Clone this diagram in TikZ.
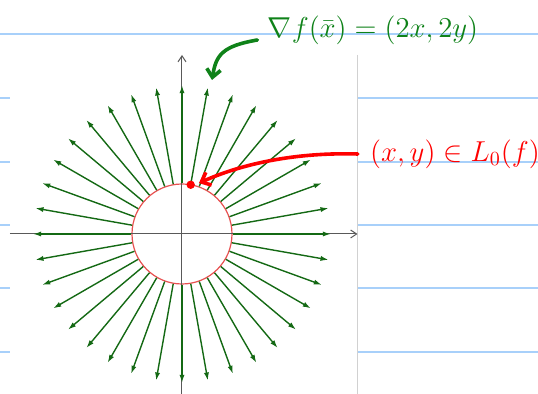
\documentclass[tikz,border=0pt]{standalone}
\usepackage{amsmath, amssymb}
\usepackage{xcolor}
\usepackage{tikz}
\usetikzlibrary{arrows.meta, positioning, calc}

\definecolor{gradgreen}{RGB}{20,105,20}
\definecolor{notegreen}{RGB}{15,130,25}
\definecolor{ruleblue}{RGB}{168,208,250}
\definecolor{circred}{RGB}{232,80,80}

\begin{document}
\begin{tikzpicture}[
  x=0.5pt, y=-0.5pt,
  >=Latex,
  ruled/.style={draw=ruleblue, line width=1pt},
  frame/.style={draw=black!18, line width=0.6pt},
  axis/.style={-{Straight Barb[length=3pt, width=4pt]}, draw=black!65, line width=0.5pt},
  vec/.style={-{Latex[length=4pt, width=2.6pt]}, draw=gradgreen, line width=0.7pt},
  levelset/.style={circle, draw=circred, line width=0.6pt, minimum size=50pt, inner sep=0pt},
  label/.style={font=\fontsize{14}{16}\selectfont, inner sep=3pt},
  note/.style={-{Straight Barb[length=4pt, width=7pt]}, line width=1.8pt, line cap=round}
]

% ---------------------------------------------------
% Page rulings and plot frame
% ---------------------------------------------------
\def\xLeft{10}
\def\xRight{357.5}

\useasboundingbox (0,0) rectangle (538,394);

\draw[ruled] (0,34.5) -- (538,34.5);
\foreach \y in {98.3,161.7,225,288.3,351.7} {
  \draw[ruled] (0,\y) -- (\xLeft,\y);
  \draw[ruled] (\xRight,\y) -- (538,\y);
}
\draw[frame] (\xRight,55) -- (\xRight,394);

% ---------------------------------------------------
% Axes and level set
% ---------------------------------------------------
\node[levelset] (level) at (182,234) {};

\draw[axis] (\xLeft,234) -- (\xRight,234);
\draw[axis] (182,394) -- (182,55);

% ---------------------------------------------------
% Gradient field on the circle
% ---------------------------------------------------
\foreach \a in {0,10,...,350} {
  \draw[vec] (level.\a) -- ($(level.center)!2.94!(level.\a)$);
}

\node[circle, fill=red, inner sep=0pt, minimum size=4.2pt] (pt) at ($(level.center)+(-80:50)$) {};

% ---------------------------------------------------
% Labels and pointers
% ---------------------------------------------------
\node[label, text=notegreen] (grad) at (373,30) {$\nabla f(\bar{x}) = (2x, 2y)$};
\node[label, text=red] (loc) at (455,154) {$(x,y) \in L_0(f)$};

\coordinate (gradtip) at (212,80);

\draw[note, draw=notegreen] ([yshift=-5pt, xshift=-2pt]grad.west) .. controls +(-35,6) and +(4,-25) .. (gradtip);
\draw[note, draw=red, shorten >=2pt] ([xshift=-3pt]loc.west) .. controls +(-70,-2) and +(40,-18) .. (pt.east);

\end{tikzpicture}
\end{document}
